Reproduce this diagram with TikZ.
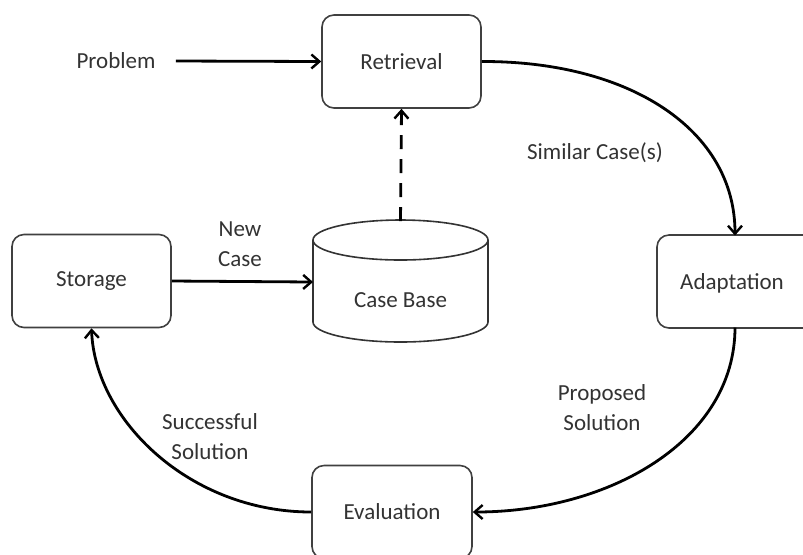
\documentclass[tikz,border=0pt]{standalone}
\usepackage{fontspec}
\setmainfont{Carlito}
\usetikzlibrary{arrows.meta}
\begin{document}
\begin{tikzpicture}[x=0.5pt,y=-0.5pt,
  lbl/.style={font=\fontsize{11.5}{15}\selectfont, text=black!80, align=center, inner sep=0pt},
  box/.style={draw=black!75, line width=0.8pt, rounded corners=6pt, fill=white,
    minimum width=79.5pt, minimum height=46.5pt, font=\fontsize{11.5}{15}\selectfont, text=black!80},
  arr/.style={line width=1.4pt, -{Straight Barb[length=4pt,width=7pt,line width=1.2pt]}}]
\useasboundingbox (0,0) rectangle (803,554);
\clip (0,0) rectangle (803,554);
\fill[white] (0,0) rectangle (803,554);
% nodes
\node[box] (ret) at (401.5,61.5) {Retrieval};
\node[box] (sto) at (91.5,281) {Storage};
\node[box, minimum width=88pt] (ada) at (745,281.5) {};
\node[lbl] (adat) at (732,283) {Adaptation};
\node[box, minimum width=80pt] (eva) at (392,512) {Evaluation};
\node[lbl] (prob) at (116,61) {Problem};
% case base cylinder
\coordinate (cbtop) at (400.5,221);
\coordinate (cbleft) at (313,282);
\coordinate (adatop) at (735,235.5);
\coordinate (adabot) at (735,327.5);
\draw[black!80, line width=0.8pt, fill=white] (313,240) -- (313,322) arc(180:360:43.75pt and 10pt) -- (488,240);
\draw[black!80, line width=0.8pt] (400.5,240) ellipse (43.75pt and 10pt);
\node[lbl] (cb) at (400.5,300) {Case Base};
% labels
\node[lbl] (newc) at (240,244) {New\\Case};
\node[lbl] (simc) at (595,153) {Similar Case(s)};
\node[lbl] (props) at (602,408) {Proposed\\Solution};
\node[lbl] (succ) at (210,437) {Successful\\Solution};
% connectors
\draw[arr] ([xshift=10pt]prob.east) -- (ret.west);
\draw[arr] (sto.east) -- (cbleft);
\draw[arr, dashed, dash pattern=on 7pt off 5pt] (cbtop) -- (ret.south);
\draw[arr] (ret.east) .. controls (630,61) and (735,130) .. (adatop);
\draw[arr] (adabot) .. controls (735,440) and (610,512) .. (eva.east);
\draw[arr] (eva.west) .. controls (190,512) and (95,420) .. (sto.south);
\end{tikzpicture}
\end{document}
